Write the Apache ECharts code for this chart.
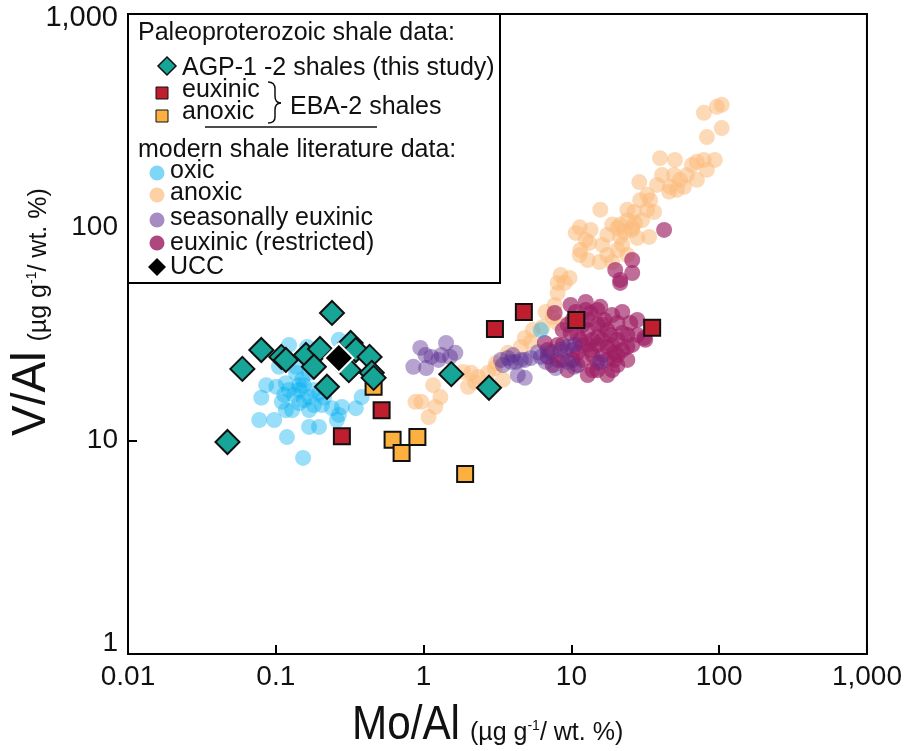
<!DOCTYPE html>
<html><head><meta charset="utf-8">
<script src="https://cdn.jsdelivr.net/npm/echarts@6/dist/echarts.min.js"></script>
<style>html,body{margin:0;padding:0;background:#fff}#c{width:905px;height:751px}</style>
</head><body><div id="c"></div>
<script>
// Tick labels
const xTickLabels = ['0.01', '0.1', '1', '10', '100', '1,000'];
const yTickLabels = ['1', '10', '100', '1,000'];

// [Mo/Al, V/Al]
const oxic = [
  [0.123,28.1],[0.163,27.5],[0.267,29.7],[0.0861,18.2],[0.101,17.9],[0.0798,15.9],[0.110,15.2],[0.129,13.9],
  [0.144,17.3],[0.168,16.0],[0.196,16.7],[0.205,14.7],[0.240,14.2],[0.280,14.4],[0.348,14.2],[0.381,16.0],
  [0.267,13.2],[0.259,12.5],[0.0773,12.5],[0.0975,12.5],[0.168,11.6],[0.196,11.6],[0.119,10.4],[0.153,8.30],
  [0.137,20.8],[0.117,18.6],[0.151,19.3],[0.168,20.8],[0.105,22.2],[0.137,22.2],[0.117,13.9],[0.144,15.0],
  [0.155,18.2],[0.181,17.3],[0.212,17.7],[6.21,33.0],
  [0.133,16.4],[0.155,15.5],[0.181,14.7],[0.123,17.3],[0.212,15.9],[0.144,18.2],[0.114,16.4],[0.168,13.9]
];
const anoxic = [
  [104,375],[96.3,367],[78.8,344],[104,292],[82.6,265],[39.8,211],[50.2,207],[70.6,203],[78.8,207],[93.4,207],
  [82.6,186],[49.5,176],[54.3,167],[46.5,155],[51.8,150],[57.8,155],[45.8,147],[28.8,163],[34.1,134],[29.2,134],
  [32.6,121],[36.3,118],[15.7,121],[26.6,118],[23.9,108],[27.0,105],[20.5,99.3],[22.8,95.1],[21.4,90.2],[33.6,90.2],
  [27.9,89.2],[11.4,100],[13.5,97.2],[10.7,94.1],[12.5,87.3],[13.2,84.5],[11.5,78.3],[11.4,74.2],[15.5,68.8],[20.5,78.3],
  [23.9,74.2],[18.9,68.8],[8.46,59.8],[9.72,57.9],[8.07,54.9],[9.00,54.9],[8.07,49.2],[7.71,43.3],[6.70,40.1],[7.47,38.0],
  [6.40,34.1],[5.48,33.0],[4.84,30.3],[5.31,29.0],[4.55,27.5],[8.07,35.6],[3.72,25.8],[3.09,23.1],[2.73,20.8],[2.34,19.9],
  [2.10,20.8],[1.16,18.2],[1.30,16.0],[0.966,15.2],[1.20,14.4],[1.08,12.9],[0.881,15.2],[2.00,17.9],[2.23,18.8],[1.85,21.0],
  [3.44,19.3],[3.04,21.9],[21.4,103],[25.8,100],
  [17.5,92.1],[18.9,103],[22.1,82.7],[16.2,82.7],[25.8,97.2],[30.1,108],[23.9,121],[32.6,142],[38.0,158],[41.1,176],
  [60.5,176],[65.4,196],[70.7,167],[17.5,74.2],[12.9,70.3]
];
const seasonal = [
  [0.950,27.2],[1.03,25.2],[1.13,24.7],[1.32,25.2],[1.42,28.7],[1.51,24.7],[1.64,25.8],[0.853,22.2],[1.04,21.9],
  [1.26,23.9],[3.34,23.9],[3.72,24.4],[3.90,23.4],[4.21,23.4],[4.55,23.9],[4.84,23.9],[5.31,24.4],[6.21,24.7],
  [7.24,26.0],[8.46,26.6],[9.42,27.5],[10.5,28.1],[9.42,23.4],[10.5,22.2],[15.7,23.4],[4.34,20.3],[4.84,19.7],
  [3.44,22.6],[4.02,25.2],[5.93,26.0],[6.70,23.4],[7.83,21.9]
];
const euxinic = [
  [9.88,43.3],[12.5,44.7],[15.7,42.4],[22.1,40.1],[20.5,35.6],[22.1,32.0],[23.9,27.5],[31.6,29.7],[19.5,23.9],
  [15.0,23.1],[12.9,20.3],[8.07,23.9],[6.92,26.6],[7.71,39.7],[13.5,39.7],[16.7,36.8],[15.0,30.6],[11.5,29.7],
  [9.88,32.0],[17.5,27.5],[13.5,26.6],[11.0,25.8],[19.5,25.8],[25.0,35.6],[21.4,54.9],[42.4,97.2],[25.8,70.3],
  [19.8,63.1],[25.8,61.1],[21.4,56.7],[31.1,30.3],[6.61,28.7],[6.92,24.7],[11.9,34.9],[15.0,34.9],[12.9,28.1],
  [16.2,29.7],[10.2,36.8],[18.4,31.3],[8.73,28.1],[20.5,22.6],
  [8.73,33.0],[10.2,26.6],[11.9,23.9],[13.9,29.7],[16.2,25.2],[18.9,28.1],[22.1,26.6],[12.9,36.8],[15.0,41.0],
  [17.5,33.0],[20.5,29.7],[11.0,22.6],[9.42,21.4],[8.07,28.1],[27.9,36.8],[25.8,28.1],[18.9,21.4],[13.9,21.4],[23.9,23.9],
  [9.42,34.9],[11.0,31.3],[12.9,33.0],[15.0,28.1],[17.5,23.9],[20.5,25.2],[16.2,34.9],[13.9,25.2],[11.9,28.1],
  [10.2,23.9],[18.9,38.8],[23.9,31.3],[27.9,31.3],[8.73,23.9],[7.47,22.6],[15.0,21.4],[17.5,20.3],[12.5,41.0],[10.7,40.1]
];
const agpShales = [
  [0.240,39.7],[0.0798,26.6],[0.0594,21.7],[0.109,24.7],[0.117,23.9],[0.160,25.2],[0.199,26.9],[0.181,22.2],
  [0.222,17.9],[0.321,28.7],[0.348,26.6],[0.431,24.7],[0.446,20.8],[0.459,19.7],[0.0471,9.86],[1.54,20.5],
  [2.77,17.7],[0.312,21.4]
];
const ebaEuxinic = [[0.280,10.5],[0.520,13.9],[3.04,33.4],[4.77,40.1],[10.8,36.8],[35.2,33.8]];
const ebaAnoxic = [[0.459,17.9],[0.617,10.1],[0.710,8.76],[0.908,10.4],[1.91,6.98]];
const ucc = [[0.267,24.4]];

const FONT_NAME = 'Liberation Sans';
const FONT = '"Liberation Sans", Arial, Helvetica, sans-serif';
const C_OXIC = 'rgba(0,174,239,0.5)';
const C_ANOX = 'rgba(251,187,122,0.68)';
const C_SEAS = 'rgba(92,45,145,0.55)';
const C_EUX = 'rgba(158,31,99,0.82)';
const C_TEAL = '#16a596';
const C_RED = '#be1e2d';
const C_ORANGE = '#fbb040';

const measureCtx = document.createElement('canvas').getContext('2d');
function textWidth(t, size) { measureCtx.font = size + 'px "' + FONT_NAME + '"'; return measureCtx.measureText(t).width; }

function circles(name, data, color) {
  return { type: 'scatter', name, data, symbol: 'circle', symbolSize: 16,
    itemStyle: { color }, silent: true, emphasis: { disabled: true } };
}
function marks(name, data, symbol, size, color, border, bw) {
  return { type: 'scatter', name, data, symbol, symbolSize: size,
    itemStyle: { color, borderColor: border, borderWidth: bw, opacity: 1 }, silent: true, emphasis: { disabled: true } };
}

// axis title group: local baseline at y = 0
function axisTitle(x, y, rotation, big, bigScale) {
  const BIG = 48, SMALL = 25, SUP = 14, MID = 0.3465;
  const bigW = textWidth(big, BIG) * bigScale;
  const gap = 10;
  const s1 = '(µg g', s2 = '/ wt. %)';
  const x1 = bigW + gap;
  const x2 = x1 + textWidth(s1, SMALL);
  const x3 = x2 + textWidth('-1', SUP);
  const st = (t, size) => ({ text: t, fontFamily: FONT, fontSize: size, fill: '#111', align: 'left', verticalAlign: 'middle' });
  return { type: 'group', x, y, rotation, z: 101, children: [
    { type: 'text', x: 0, y: -MID * BIG, scaleX: bigScale, z: 101, style: st(big, BIG) },
    { type: 'text', x: x1, y: -MID * SMALL, z: 101, style: st(s1, SMALL) },
    { type: 'text', x: x2, y: -MID * SUP - 11, z: 101, style: st('-1', SUP) },
    { type: 'text', x: x3, y: -MID * SMALL, z: 101, style: st(s2, SMALL) }
  ] };
}

const chart = echarts.init(document.getElementById('c'));
const legendText = (x, y, t) => ({ type: 'text', x, y, z: 101,
  style: { text: t, fontFamily: FONT, fontSize: 25, fill: '#111', align: 'left', verticalAlign: 'middle' } });
const braceStyle = { fill: null, stroke: '#111', lineWidth: 1.5 };

chart.setOption({
  animation: false,
  backgroundColor: '#fff',
  grid: { left: 128, right: 34, top: 14, bottom: 97, show: true, borderColor: '#000', borderWidth: 2, containLabel: false },
  xAxis: {
    type: 'log', logBase: 10, min: 0.01, max: 1000,
    axisLine: { lineStyle: { color: '#000', width: 2 } },
    axisTick: { inside: true, length: 9, lineStyle: { color: '#000', width: 2 } },
    minorTick: { show: false }, splitLine: { show: false },
    axisLabel: { color: '#111', fontFamily: FONT, fontSize: 28, margin: 9, showMinLabel: true, showMaxLabel: true,
      formatter: v => xTickLabels[Math.round(Math.log10(v)) + 2] }
  },
  yAxis: {
    type: 'log', logBase: 10, min: 1, max: 1000,
    axisLine: { lineStyle: { color: '#000', width: 2 } },
    axisTick: { inside: true, length: 9, lineStyle: { color: '#000', width: 2 } },
    minorTick: { show: false }, splitLine: { show: false },
    axisLabel: { color: '#111', fontFamily: FONT, fontSize: 28, margin: 10, showMinLabel: true, showMaxLabel: true,
      formatter: v => {
        const i = Math.round(Math.log10(v));
        if (i === 0) return '{lo|' + yTickLabels[i] + '}';
        if (i === yTickLabels.length - 1) return '{hi|' + yTickLabels[i] + '}';
        return yTickLabels[i];
      },
      rich: { lo: { fontSize: 28, fontFamily: FONT, color: '#111', padding: [0, 0, 22, 0] },
              hi: { fontSize: 29, fontFamily: FONT, color: '#111', padding: [8, 0, 0, 0] } } }
  },
  series: [
    circles('anoxic', anoxic, C_ANOX),
    circles('euxinic (restricted)', euxinic, C_EUX),
    circles('seasonally euxinic', seasonal, C_SEAS),
    circles('oxic', oxic, C_OXIC),
    marks('EBA-2 euxinic', ebaEuxinic, 'rect', 16, C_RED, '#111', 2),
    marks('EBA-2 anoxic', ebaAnoxic, 'rect', 16, C_ORANGE, '#111', 2),
    marks('AGP-1 -2 shales', agpShales, 'diamond', 24, C_TEAL, '#111', 2),
    marks('UCC', ucc, 'diamond', 29, '#000', '#fff', 2)
  ],
  graphic: [
    { type: 'rect', z: 100, shape: { x: 128, y: 14, width: 372, height: 269 }, style: { fill: '#fff', stroke: '#000', lineWidth: 2 } },
    legendText(138, 33, 'Paleoproterozoic shale data:'),
    { type: 'polygon', z: 101, shape: { points: [[167,57],[176,66],[167,75],[158,66]] }, style: { fill: C_TEAL, stroke: '#111', lineWidth: 1.5 } },
    legendText(182, 68, 'AGP-1 -2 shales (this study)'),
    { type: 'rect', z: 101, shape: { x: 156, y: 87, width: 12, height: 12 }, style: { fill: C_RED, stroke: '#111', lineWidth: 1 } },
    legendText(182, 90, 'euxinic'),
    { type: 'rect', z: 101, shape: { x: 156, y: 110, width: 12, height: 12 }, style: { fill: C_ORANGE, stroke: '#111', lineWidth: 1 } },
    legendText(182, 112, 'anoxic'),
    { type: 'bezierCurve', z: 101, shape: { x1: 268, y1: 82, cpx1: 275, cpy1: 82, x2: 275, y2: 89 }, style: braceStyle },
    { type: 'line', z: 101, shape: { x1: 275, y1: 89, x2: 275, y2: 96 }, style: braceStyle },
    { type: 'bezierCurve', z: 101, shape: { x1: 275, y1: 96, cpx1: 275, cpy1: 103, x2: 281, y2: 103 }, style: braceStyle },
    { type: 'bezierCurve', z: 101, shape: { x1: 281, y1: 103, cpx1: 275, cpy1: 103, x2: 275, y2: 110 }, style: braceStyle },
    { type: 'line', z: 101, shape: { x1: 275, y1: 110, x2: 275, y2: 117 }, style: braceStyle },
    { type: 'bezierCurve', z: 101, shape: { x1: 275, y1: 117, cpx1: 275, cpy1: 123, x2: 268, y2: 123 }, style: braceStyle },
    legendText(290, 107, 'EBA-2 shales'),
    { type: 'line', z: 101, shape: { x1: 205, y1: 127, x2: 377, y2: 127 }, style: { stroke: '#111', lineWidth: 1.5 } },
    legendText(138, 150, 'modern shale literature data:'),
    { type: 'circle', z: 101, shape: { cx: 157, cy: 173, r: 7.5 }, style: { fill: C_OXIC } },
    legendText(170, 171, 'oxic'),
    { type: 'circle', z: 101, shape: { cx: 157, cy: 195, r: 7.5 }, style: { fill: C_ANOX } },
    legendText(170, 193, 'anoxic'),
    { type: 'circle', z: 101, shape: { cx: 157, cy: 220, r: 7.5 }, style: { fill: C_SEAS } },
    legendText(170, 218, 'seasonally euxinic'),
    { type: 'circle', z: 101, shape: { cx: 157, cy: 243, r: 7.5 }, style: { fill: C_EUX } },
    legendText(170, 243, 'euxinic (restricted)'),
    { type: 'polygon', z: 101, shape: { points: [[157,258],[166,267],[157,276],[148,267]] }, style: { fill: '#000' } },
    legendText(170, 267, 'UCC'),
    axisTitle(352, 742, 0, 'Mo/Al', 0.88),
    axisTitle(48, 436, Math.PI / 2, 'V/Al', 0.96)
  ]
});
</script></body></html>
